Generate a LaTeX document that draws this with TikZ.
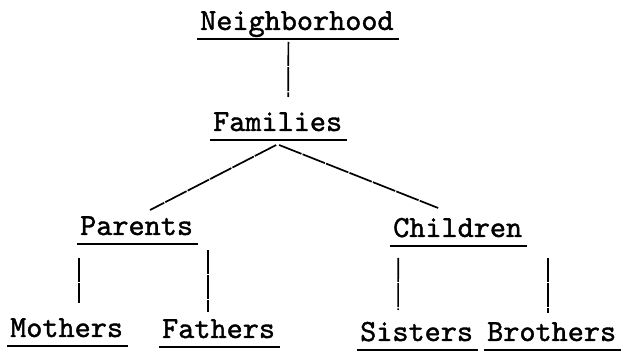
\documentclass[tikz,border=0pt]{standalone}
\usepackage{fontspec}
\usepackage{tikz}
\newfontfamily\typewriter{lmmono10-regular.otf}[FakeBold=1.3]

\begin{document}
\begin{tikzpicture}[x=1pt,y=1pt,
  word/.style={font=\typewriter\fontsize{30.7}{34}\selectfont,
    inner xsep=3pt, inner ysep=0pt, anchor=base west},
  uline/.style={line width=1.7pt},
  link/.style={line width=1.7pt, dash pattern=on 24pt off 1.2pt}]
  \useasboundingbox (0,0) rectangle (627,351);
  % the words, placed by the left end of their baseline
  \foreach \nm/\x/\y/\txt in {nbh/200/321/Neighborhood, fam/213/220/Families,
      par/80/116/Parents, chi/393/114/Children,
      mot/10/14/Mothers, fat/162/13/Fathers,
      sis/360/10/Sisters, bro/487/10/Brothers}
    \node[word] (\nm) at (\x-3,\y) {\txt};
  % underlines
  \foreach \nm in {nbh,fam,par,chi,mot,fat,sis,bro}
    \draw[uline] ([yshift=-9pt]\nm.base west) -- ([yshift=-9pt,xshift=2pt]\nm.base east);
  % links between levels
  \draw[link] ([xshift=-8.5pt,yshift=-12pt]nbh.base) -- ([xshift=10.5pt,yshift=34pt]fam.base);
  \draw[link] ([xshift=-1.5pt,yshift=-14pt]fam.base) -- ([xshift=13.5pt,yshift=25pt]par.base);
  \draw[link] ([xshift=1.5pt,yshift=-14pt]fam.base) -- ([xshift=-19.5pt,yshift=29pt]chi.base);
  \draw[link] ([xshift=-57.5pt,yshift=-23pt]par.base) -- ([xshift=12.5pt,yshift=34pt]mot.base);
  \draw[link] ([xshift=71.5pt,yshift=-15pt]par.base) -- ([xshift=-10.5pt,yshift=26pt]fat.base);
  \draw[link] ([xshift=-59.5pt,yshift=-21pt]chi.base) -- ([xshift=-18.5pt,yshift=31pt]sis.base);
  \draw[link] ([xshift=90.5pt,yshift=-21pt]chi.base) -- ([xshift=-3.5pt,yshift=28pt]bro.base);
\end{tikzpicture}
\end{document}
